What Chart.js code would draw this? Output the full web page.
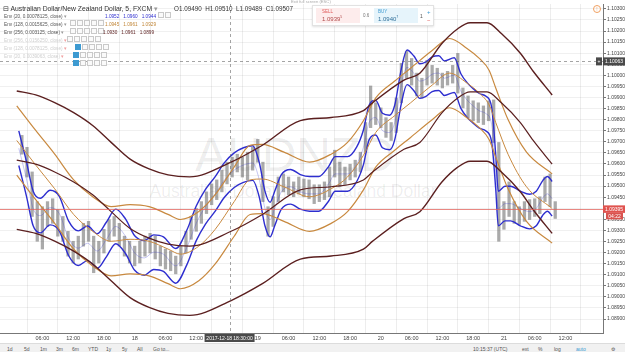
<!DOCTYPE html>
<html>
<head>
<meta charset="utf-8">
<script src="https://cdn.jsdelivr.net/npm/chart.js@4.4.1/dist/chart.umd.min.js"></script>
<style>
  html, body { margin: 0; padding: 0; background: #fff; }
  #wrap { position: relative; width: 625px; height: 352px; overflow: hidden;
          font-family: "Liberation Sans", Arial, sans-serif; }
  #chart { position: absolute; left: 0; top: 0; z-index: 1; }
  .wm { position: absolute; z-index: 0; color: rgba(0,0,0,0.075); white-space: nowrap; text-align: center; }
  .ov { position: absolute; z-index: 2; white-space: nowrap; line-height: 1; }
  .sq { display: inline-block; width: 4px; height: 4px; border: 1px solid #c9c9c9; margin-right: 1px; vertical-align: middle; background: #fafafa; }
  .sq.on { background: #3d9ad1; border-color: #3d9ad1; }
  .env { font-size: 4.7px; color: #555; }
  .env.faint { color: #cfcfcf; }
  .vals span { margin-right: 4px; }
  #toolbar { position: absolute; left: 0; top: 343px; width: 625px; height: 9px; background: #f1f1f1;
             border-top: 1px solid #dcdcdc; z-index: 2; font-size: 5px; color: #555; }
  #toolbar span { position: absolute; top: 2px; }
  #widget { position: absolute; left: 312px; top: 5px; width: 120px; height: 19px; background: #fff;
            border: 1px solid #e2e2e2; box-shadow: 0 1px 2px rgba(0,0,0,0.12); z-index: 2; }
</style>
</head>
<body>
<div id="wrap">
  <div class="wm" style="left:0;width:590px;top:131px;font-size:48px;line-height:48px;">AUDNZD</div>
  <div class="wm" style="left:0;width:586px;top:183px;font-size:17.5px;line-height:17.5px;">Australian Dollar/New Zealand Dollar</div>
  <canvas id="chart" width="625" height="352"></canvas>

  <div class="ov" style="left:3px;top:6px;font-size:6.8px;color:#333;">&#8863; Australian Dollar/New Zealand Dollar, 5, FXCM <span style="color:#999">&#9662;</span></div>
  <div class="ov" style="left:158px;top:6px;"><span class="sq"></span><span class="sq"></span></div>
  <div class="ov" style="left:174px;top:6px;font-size:6.3px;color:#333;">O1.09490&nbsp; H1.09510&nbsp; L1.09489&nbsp; C1.09507</div>

  <div class="ov env" style="left:4px;top:15px;">Env (20, 0.00078125, close) <span style="color:#999">&#9662;</span></div>
  <div class="ov" style="left:70px;top:14px;"><span class="sq"></span><span class="sq"></span><span class="sq"></span><span class="sq"></span><span class="sq"></span></div>
  <div class="ov env vals" style="left:105px;top:15px;color:#2e2ecf;"><span>1.0952</span><span>1.0960</span><span>1.0944</span></div>

  <div class="ov env" style="left:4px;top:23px;">Env (128, 0.0015625, close) <span style="color:#999">&#9662;</span></div>
  <div class="ov" style="left:70px;top:22px;"><span class="sq"></span><span class="sq"></span><span class="sq"></span><span class="sq"></span><span class="sq"></span></div>
  <div class="ov env vals" style="left:105px;top:23px;color:#c08536;"><span>1.0945</span><span>1.0961</span><span>1.0929</span></div>

  <div class="ov env" style="left:4px;top:31px;">Env (256, 0.003125, close) <span style="color:#999">&#9662;</span></div>
  <div class="ov" style="left:67px;top:30px;"><span class="sq"></span><span class="sq"></span><span class="sq"></span><span class="sq"></span><span class="sq"></span></div>
  <div class="ov env vals" style="left:103px;top:31px;color:#5b1f1f;"><span>1.0930</span><span>1.0961</span><span>1.0899</span></div>

  <div class="ov env faint" style="left:4px;top:39px;">Env (256, 0.0156250, close) <span style="color:#f0a0a0">&#9662;</span></div>
  <div class="ov" style="left:75px;top:38px;"><span class="sq on"></span><span class="sq"></span><span class="sq"></span><span class="sq"></span><span class="sq"></span></div>
  <div class="ov env faint" style="left:4px;top:47px;">Env (128, 0.0078125, close) <span style="color:#f0a0a0">&#9662;</span></div>
  <div class="ov" style="left:73px;top:46px;"><span class="sq on"></span><span class="sq"></span><span class="sq"></span><span class="sq"></span><span class="sq"></span></div>
  <div class="ov env faint" style="left:4px;top:55px;">Env (20, 0.0039063, close) <span style="color:#f0a0a0">&#9662;</span></div>
  <div class="ov" style="left:73px;top:54px;"><span class="sq on"></span><span class="sq"></span><span class="sq"></span><span class="sq"></span><span class="sq"></span></div>

  <div class="ov" style="left:291px;top:0px;font-size:4.2px;color:#aaa;">Exit full screen (ESC)</div>
  <div id="widget">
    <div class="ov" style="left:3px;top:2px;width:44px;height:15px;background:#fdecec;"></div>
    <div class="ov" style="left:9px;top:4px;font-size:4.5px;color:#e05a5a;">SELL</div>
    <div class="ov" style="left:9px;top:10px;font-size:6px;color:#b24a4a;">1.0939<sup style="font-size:3.5px">5</sup></div>
    <div class="ov" style="left:50px;top:8px;font-size:4.5px;color:#777;">0.6</div>
    <div class="ov" style="left:61px;top:2px;width:44px;height:15px;background:#e6f4fb;"></div>
    <div class="ov" style="left:65px;top:4px;font-size:4.5px;color:#3d9ad1;">BUY</div>
    <div class="ov" style="left:65px;top:10px;font-size:6px;color:#2f6f9a;">1.0940<sup style="font-size:3.5px">7</sup></div>
    <div class="ov" style="left:107px;top:8px;font-size:5px;color:#555;">1</div>
    <div class="ov" style="left:114px;top:3px;font-size:6px;color:#3d9ad1;">+</div>
    <div class="ov" style="left:114px;top:11px;font-size:6px;color:#e05a5a;">&minus;</div>
  </div>
  <div class="ov" style="left:593px;top:5px;width:6px;height:6px;border:1px solid #f0a060;border-radius:50%;font-size:5px;color:#f0a060;text-align:center;line-height:6px;">!</div>

  <div id="toolbar">
    <span style="left:7px">1d</span><span style="left:24px">5d</span><span style="left:40px">1m</span>
    <span style="left:56px">3m</span><span style="left:72px">6m</span><span style="left:88px">YTD</span>
    <span style="left:106px">1y</span><span style="left:122px">5y</span><span style="left:137px">All</span>
    <span style="left:153px">Go to...</span>
    <span style="left:473px">10:15:37 (UTC)</span><span style="left:522px">ext</span>
    <span style="left:538px">%</span><span style="left:554px">log</span>
    <span style="left:576px;color:#3d9ad1">auto</span><span style="left:611px">&#9881;</span>
  </div>
</div>

<script>
// hours relative to 2017-12-18 00:00, x axis
const timeTicks = [-18, -12, -6, 0, 6, 12, 18, 24, 30, 36, 42, 48, 54, 60, 66, 72, 78, 84];
const timeLabels = ['06:00', '12:00', '18:00', '18', '06:00', '12:00', '18:00', '19', '06:00', '12:00',
                    '18:00', '20', '06:00', '12:00', '18:00', '21', '06:00', '12:00'];
const priceTicks = [1.1030, 1.1025, 1.1020, 1.1015, 1.1010, 1.1005, 1.1000, 1.0995, 1.0990, 1.0985,
                    1.0980, 1.0975, 1.0970, 1.0965, 1.0960, 1.0955, 1.0950, 1.0945, 1.0940, 1.0935,
                    1.0930, 1.0925, 1.0920, 1.0915, 1.0910, 1.0905, 1.0900, 1.0895, 1.0890];

// hourly price range, first bar at hour -22
const firstBarHour = -22;
const barHigh = [
  1.09729, 1.09675, 1.09564, 1.09430, 1.09407, 1.09430, 1.09443, 1.09394, 1.09363, 1.09296,
  1.09251, 1.09274, 1.09332, 1.09341, 1.09274, 1.09251, 1.09305, 1.09349, 1.09363, 1.09332,
  1.09274, 1.09251, 1.09229, 1.09251, 1.09274, 1.09287, 1.09274, 1.09229, 1.09216, 1.09207,
  1.09184, 1.09229, 1.09296, 1.09363, 1.09399, 1.09430, 1.09474, 1.09510, 1.09528, 1.09572,
  1.09608, 1.09630, 1.09644, 1.09630, 1.09653, 1.09675, 1.09711, 1.09608, 1.09407, 1.09452,
  1.09541, 1.09555, 1.09541, 1.09519, 1.09541, 1.09532, 1.09528, 1.09506, 1.09506, 1.09519,
  1.09586, 1.09662, 1.09608, 1.09586, 1.09599, 1.09617, 1.09653, 1.09787, 1.09952, 1.09876,
  1.09853, 1.09809, 1.09787, 1.09898, 1.10054, 1.10108, 1.10076, 1.10010, 1.09987, 1.10068,
  1.10045, 1.10032, 1.10010, 1.10018, 1.10045, 1.10099, 1.09943, 1.09907, 1.09885, 1.09876,
  1.09862, 1.09885, 1.09889, 1.09697, 1.09430, 1.09519, 1.09430, 1.09407, 1.09430, 1.09439,
  1.09443, 1.09452, 1.09541, 1.09555, 1.09430
];
const barLow = [
  1.09644, 1.09541, 1.09363, 1.09251, 1.09216, 1.09318, 1.09332, 1.09274, 1.09251, 1.09184,
  1.09153, 1.09171, 1.09229, 1.09251, 1.09109, 1.09153, 1.09198, 1.09251, 1.09274, 1.09229,
  1.09184, 1.09153, 1.09140, 1.09153, 1.09184, 1.09198, 1.09171, 1.09140, 1.09126, 1.09118,
  1.09104, 1.09140, 1.09198, 1.09260, 1.09296, 1.09332, 1.09376, 1.09416, 1.09439, 1.09474,
  1.09510, 1.09541, 1.09564, 1.09541, 1.09528, 1.09572, 1.09608, 1.09430, 1.09274, 1.09318,
  1.09430, 1.09474, 1.09461, 1.09452, 1.09465, 1.09452, 1.09443, 1.09421, 1.09430, 1.09439,
  1.09452, 1.09541, 1.09497, 1.09506, 1.09528, 1.09541, 1.09564, 1.09653, 1.09764, 1.09778,
  1.09764, 1.09720, 1.09706, 1.09742, 1.09876, 1.09987, 1.09956, 1.09907, 1.09898, 1.09956,
  1.09965, 1.09956, 1.09943, 1.09956, 1.09965, 1.09920, 1.09853, 1.09809, 1.09795, 1.09787,
  1.09778, 1.09795, 1.09697, 1.09251, 1.09305, 1.09363, 1.09332, 1.09327, 1.09341, 1.09349,
  1.09363, 1.09376, 1.09430, 1.09407, 1.09354
];

// Env (20) basis
const blueHours = [-22.6, -21.1, -19.8, -18.4, -16.5, -14.7, -12.9, -11.0, -9.2, -7.3, -5.5, -3.7, -1.8,
  0.0, 1.9, 3.7, 5.6, 8.0, 10.2, 12.0, 13.8, 15.7, 17.5, 19.4, 21.2, 23.0, 24.3, 25.4, 26.4, 27.3,
  28.6, 30.4, 32.3, 34.1, 35.9, 37.8, 39.1, 41.5, 43.3, 44.6, 45.7, 47.0, 48.3, 49.7, 50.7, 52.0,
  53.1, 54.4, 55.6, 56.8, 58.0, 59.3, 60.4, 62.3, 63.6, 64.8, 66.0, 67.2, 68.5, 69.6, 70.4, 70.9,
  72.2, 73.3, 75.2, 77.0, 78.3, 79.6, 80.5, 81.4];
const blueBasis = [1.09671, 1.09532, 1.09399, 1.09367, 1.09403, 1.09376, 1.09265, 1.09220, 1.09242,
  1.09207, 1.09260, 1.09318, 1.09274, 1.09198, 1.09176, 1.09202, 1.09193, 1.09140, 1.09225, 1.09332,
  1.09407, 1.09465, 1.09528, 1.09572, 1.09595, 1.09604, 1.09528, 1.09399, 1.09349, 1.09399, 1.09474,
  1.09497, 1.09474, 1.09465, 1.09465, 1.09510, 1.09555, 1.09555, 1.09599, 1.09675, 1.09787, 1.09809,
  1.09751, 1.09742, 1.09787, 1.09952, 1.10036, 1.10010, 1.09974, 1.09983, 1.10005, 1.10010, 1.09987,
  1.10001, 1.09929, 1.09889, 1.09862, 1.09840, 1.09827, 1.09778, 1.09564, 1.09399, 1.09421, 1.09421,
  1.09399, 1.09385, 1.09399, 1.09448, 1.09465, 1.09443];

// Env (128) basis
const orangeHours = [-23.0, -19.3, -15.6, -11.9, -8.2, -4.6, -0.9, 2.8, 6.5, 8.9, 12.5, 15.7, 19.4, 22.5,
  24.9, 29.1, 34.1, 38.3, 41.5, 44.6, 47.0, 50.7, 53.8, 58.0, 61.4, 64.8, 67.2, 69.1, 70.4, 72.8, 76.4, 81.4];
const orangeBasis = [1.09706, 1.09595, 1.09488, 1.09372, 1.09296, 1.09251, 1.09260, 1.09251, 1.09216,
  1.09193, 1.09229, 1.09305, 1.09430, 1.09528, 1.09532, 1.09497, 1.09452, 1.09488, 1.09541, 1.09639,
  1.09742, 1.09818, 1.09876, 1.09956, 1.10010, 1.09965, 1.09920, 1.09867, 1.09787, 1.09644, 1.09497, 1.09399];

// Env (256) basis
const maroonHours = [-23.0, -19.3, -15.6, -11.9, -8.2, -4.6, -0.9, 2.8, 6.5, 10.7, 18.8, 24.9, 32.3, 38.3,
  44.6, 46.4, 52.5, 55.6, 59.9, 63.0, 65.4, 68.7, 71.5, 75.2, 77.7, 81.4];
const maroonBasis = [1.09617, 1.09599, 1.09564, 1.09519, 1.09461, 1.09385, 1.09309, 1.09265, 1.09238,
  1.09229, 1.09296, 1.09372, 1.09483, 1.09497, 1.09528, 1.09564, 1.09666, 1.09697, 1.09831, 1.09898,
  1.09925, 1.09925, 1.09876, 1.09787, 1.09706, 1.09599];

// envelope offsets from the legend
const blueOffset = 0.00078125, orangeOffset = 0.0015625, maroonOffset = 0.003125;

const lastPrice = 1.09395, countdown = '04:22';
const crossHour = 18.5, crossPrice = 1.10063, crossTimeLabel = '2017-12-18 18:30:00';

const FONT = '"Liberation Sans", Arial, sans-serif';

function env(hours, basis, off) {
  return hours.map((h, i) => ({ x: h, y: basis[i] + off }));
}
function line(data, color, width) {
  return { type: 'line', data: data, borderColor: color, borderWidth: width, pointRadius: 0,
           cubicInterpolationMode: 'monotone', fill: false, order: 1 };
}

const blue = '#2e2ecf', orange = '#c8893f', maroon = '#5b1f1f';

const overlay = {
  id: 'overlay',
  afterDatasetsDraw(chart) {
    const { ctx, chartArea: a, scales: { x, y } } = chart;
    ctx.save();
    const py = Math.round(y.getPixelForValue(lastPrice)) + 0.5;
    ctx.strokeStyle = 'rgba(226,96,90,0.75)';
    ctx.lineWidth = 1;
    ctx.beginPath(); ctx.moveTo(a.left, py); ctx.lineTo(a.right, py); ctx.stroke();
    ctx.setLineDash([3, 3]);
    ctx.strokeStyle = 'rgba(90,90,90,0.55)';
    const cx = Math.round(x.getPixelForValue(crossHour)) + 0.5;
    const cy = Math.round(y.getPixelForValue(crossPrice)) + 0.5;
    ctx.beginPath(); ctx.moveTo(a.left, cy); ctx.lineTo(a.right, cy); ctx.stroke();
    ctx.beginPath(); ctx.moveTo(cx, a.top); ctx.lineTo(cx, a.bottom); ctx.stroke();
    ctx.restore();
  },
  afterDraw(chart) {
    const { ctx, chartArea: a, scales: { x, y } } = chart;
    const box = (x0, y0, w, h, bg, text, color) => {
      ctx.fillStyle = bg; ctx.fillRect(x0, y0, w, h);
      ctx.fillStyle = color; ctx.font = '5px ' + FONT;
      ctx.textAlign = 'center'; ctx.textBaseline = 'middle';
      ctx.fillText(text, x0 + w / 2, y0 + h / 2 + 0.3);
    };
    ctx.save();
    const py = y.getPixelForValue(lastPrice);
    box(a.right, py - 4, 22, 7.5, '#e0534f', lastPrice.toFixed(5), '#fff');
    box(a.right + 3, py + 3.5, 17, 6.5, '#d9534f', countdown, '#fff');
    const cy = y.getPixelForValue(crossPrice);
    box(a.right, cy - 4, 22, 8, '#4a4a4a', crossPrice.toFixed(5), '#fff');
    box(a.right - 7, cy - 4, 6, 8, '#4a4a4a', '+', '#fff');
    const cx = x.getPixelForValue(crossHour);
    box(cx - 25, a.bottom + 1, 50, 8, '#4a4a4a', crossTimeLabel, '#fff');
    ctx.restore();
  }
};

new Chart(document.getElementById('chart'), {
  type: 'line',
  data: {
    datasets: [
      { type: 'bar', data: barHigh.map((h, i) => ({ x: firstBarHour + i, y: [barLow[i], h] })),
        backgroundColor: 'rgba(85,85,85,0.5)', barThickness: 2.6, order: 10 },
      line(env(maroonHours, maroonBasis, maroonOffset), maroon, 1.4),
      line(env(maroonHours, maroonBasis, 0), maroon, 1.2),
      line(env(maroonHours, maroonBasis, -maroonOffset), maroon, 1.4),
      line(env(orangeHours, orangeBasis, orangeOffset), orange, 1.2),
      line(env(orangeHours, orangeBasis, 0), orange, 1),
      line(env(orangeHours, orangeBasis, -orangeOffset), orange, 1.2),
      line(env(blueHours, blueBasis, blueOffset), blue, 1.4),
      line(env(blueHours, blueBasis, 0), 'rgba(46,46,207,0.35)', 0.8),
      line(env(blueHours, blueBasis, -blueOffset), blue, 1.4)
    ]
  },
  options: {
    responsive: false,
    animation: false,
    events: [],
    layout: { padding: 0 },
    plugins: { legend: { display: false }, tooltip: { enabled: false } },
    scales: {
      x: {
        type: 'linear', min: -23, max: 88.05,
        afterBuildTicks: s => { s.ticks = timeTicks.map(v => ({ value: v })); },
        afterFit: s => { s.height = 19; },
        ticks: { autoSkip: false, maxRotation: 0, padding: 2, color: '#444',
                 font: { size: 5.5, family: FONT },
                 callback: (v, i) => timeLabels[i] },
        grid: { color: 'rgba(0,0,0,0.07)', drawTicks: false },
        border: { color: '#777' }
      },
      y: {
        type: 'linear', position: 'right', min: 1.08837, max: 1.10322,
        afterBuildTicks: s => { s.ticks = priceTicks.map(v => ({ value: v })); },
        afterFit: s => { s.width = 22; },
        ticks: { padding: 1, color: '#444', font: { size: 5, family: FONT },
                 callback: v => v.toFixed(5) },
        grid: { color: 'rgba(0,0,0,0.06)', tickLength: 3, tickColor: '#777' },
        border: { color: '#777' }
      }
    }
  },
  plugins: [overlay]
});
</script>
</body>
</html>
